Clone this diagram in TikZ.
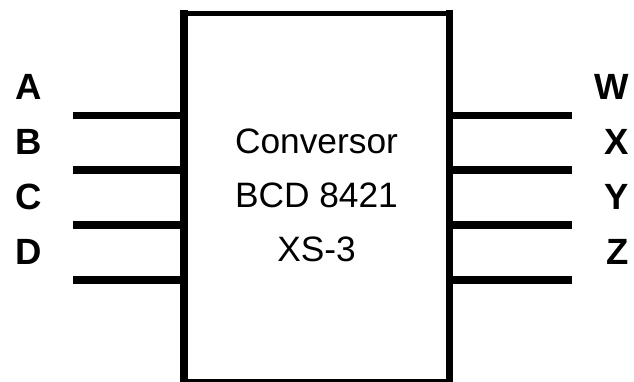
\documentclass[tikz,border=0pt]{standalone}
\usepackage{fontspec}
\setmainfont{Liberation Sans}
\begin{document}
\begin{tikzpicture}[x=1pt,y=-1pt,
  wire/.style={line width=7.6pt},
  vedge/.style={line width=7.8pt},
  hedge/.style={line width=5pt},
  lbl/.style={font=\fontsize{36.5}{36.5}\selectfont\bfseries, inner sep=0pt},
  body/.style={font=\fontsize{35.3}{54}\selectfont, align=center, inner sep=0pt}]
\useasboundingbox (0,0) rectangle (634,382);
% box
\coordinate (tl) at (184.2,10.5);
\coordinate (tr) at (449.5,10.5);
\coordinate (bl) at (184.2,384);
\coordinate (br) at (449.5,384);
\draw[vedge] (tl) -- (bl);
\draw[vedge] (tr) -- (br);
\draw[hedge] (180.3,13.1) -- (453.4,13.1);
\draw[hedge] (180.3,381.5) -- (453.4,381.5);
\node[body] (box) at (316.5,195) {Conversor\\BCD 8421\\XS-3};
% inputs and outputs
\foreach \n/\y in {1/115.5, 2/170, 3/225, 4/279.7} {
  \coordinate (li\n) at (72.7,\y);
  \coordinate (lb\n) at (184.2,\y);
  \draw[wire] (li\n) -- (lb\n);
  \coordinate (ro\n) at (572.3,\y);
  \coordinate (rb\n) at (449.5,\y);
  \draw[wire] (rb\n) -- (ro\n);
}
% labels
\node[lbl, anchor=base west] (A) at (15,100) {A};
\node[lbl, anchor=base west] (B) at (15,155) {B};
\node[lbl, anchor=base west] (C) at (15,209.5) {C};
\node[lbl, anchor=base west] (D) at (15,264) {D};
\node[lbl, anchor=base east] (W) at (629,100) {W};
\node[lbl, anchor=base east] (X) at (629,155) {X};
\node[lbl, anchor=base east] (Y) at (629,209.5) {Y};
\node[lbl, anchor=base east] (Z) at (629,264) {Z};
\end{tikzpicture}
\end{document}
